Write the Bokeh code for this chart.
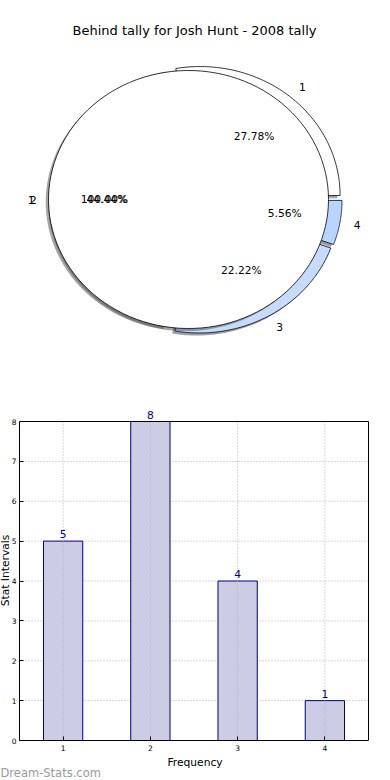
import numpy as np
from bokeh.plotting import figure
from bokeh.models import Range1d, Label, LabelSet, ColumnDataSource, Title
from bokeh.embed import file_html
from bokeh.resources import INLINE
from bokeh.core.properties import value

# ---------------- data ----------------
title_text = "Behind tally for Josh Hunt - 2008 tally"
categories = ["1", "2", "3", "4"]
counts = [5, 8, 4, 1]
cover_labels = ["1"]
cover_counts = [1]
y_ticks = [0, 1, 2, 3, 4, 5, 6, 7, 8]
x_label = "Frequency"
y_label = "Stat Intervals"
watermark = "Dream-Stats.com"

# ---------------- styles ----------------
FONT = "DejaVu Sans"
pie_colors = ["#ffffff", "#ffffff", "#c6dbff", "#b8d5ff"]
cover_color = "#ffffff"
EXPLODE = 0.04
PX_X, PX_Y = 140.0, 129.0        # pixels per pie unit
PIE_W, PIE_H = 390, 400
CX_PX, CY_PX = 196.0, 199.0      # pie centre inside the pie figure
COVER_DX = -8.0 / PX_X           # offset of the overlaid full pie
SHADOW = (-0.02, -0.02)

pie = figure(width=PIE_W, height=PIE_H, output_backend="svg", toolbar_location=None,
             x_range=Range1d(-CX_PX / PX_X, (PIE_W - CX_PX) / PX_X),
             y_range=Range1d(-(PIE_H - CY_PX) / PX_Y, CY_PX / PX_Y),
             x_axis_location=None, y_axis_location=None,
             min_border=0, min_border_left=0, min_border_right=0,
             min_border_top=0, min_border_bottom=0,
             outline_line_color=None)
pie.grid.visible = False


def shade(hexcol):
    h = hexcol.lstrip("#")
    r, g, b = (int(h[i:i + 2], 16) for i in (0, 2, 4))
    return "#%02x%02x%02x" % (int(r * 0.3), int(g * 0.3), int(b * 0.3))


def wedge(cx, cy, t1, t2, n=120):
    a = np.radians(np.linspace(t1, t2, n))
    xs, ys = list(cx + np.cos(a)), list(cy + np.sin(a))
    if t2 - t1 < 359.999:
        xs, ys = [cx] + xs, [cy] + ys
    return xs, ys


texts = []


def draw_pie(vals, labels, colors, explode, ox):
    total = float(sum(vals))
    start = 0.0
    xs, ys, sx, sy = [], [], [], []
    for lab, v in zip(labels, vals):
        span = 360.0 * v / total
        mid = start + span / 2
        c, s = np.cos(np.radians(mid)), np.sin(np.radians(mid))
        cx, cy = ox + explode * c, explode * s
        wx, wy = wedge(cx, cy, start, start + span)
        xs.append(wx); ys.append(wy)
        sx.append([x + SHADOW[0] for x in wx]); sy.append([y + SHADOW[1] for y in wy])
        lx, ly = cx + 1.1 * c, cy + 1.1 * s
        texts.append((lx, ly, lab, "left" if lx > ox else "right"))
        texts.append((cx + 0.6 * c, cy + 0.6 * s, "%.2f%%" % (100.0 * v / total), "center"))
        start += span
    pie.patches(sx, sy, fill_color=[shade(c) for c in colors], fill_alpha=0.5, line_color=None)
    pie.patches(xs, ys, fill_color=colors, line_color="black", line_width=0.8)


draw_pie(counts, categories, pie_colors, EXPLODE, 0.0)
draw_pie(cover_counts, cover_labels, [cover_color], 0.0, COVER_DX)
for tx, ty, tt, ta in texts:
    pie.text(x=[tx], y=[ty], text=[tt], text_align=ta, text_baseline="middle",
             text_font=value(FONT), text_font_size="10.7px", text_color="black")

pie.add_layout(Label(x=-2.0 / PX_X, y=(CY_PX - 30.0) / PX_Y, text=title_text,
                     text_align="center", text_baseline="middle", text_font=FONT,
                     text_font_size="13px", text_color="black"))

# ---------------- bar chart ----------------
BAR_W, BAR_H = 390, 380
ML, MR, MB = 19, 20, 40
TOP_PAD = 21          # px above the top of the axes box (room for value labels)
BOX_H = 319           # px height of the axes box
RIGHT_PAD = 2         # px right of the axes box
xpos = [int(c) for c in categories]
x_lo, x_hi = min(xpos) - 0.5, max(xpos) + 0.5
y_top = max(y_ticks)
box_w = BAR_W - ML - MR - RIGHT_PAD
bars = figure(width=BAR_W, height=BAR_H, output_backend="svg", toolbar_location=None,
              x_range=Range1d(x_lo, x_hi + (x_hi - x_lo) * RIGHT_PAD / box_w),
              y_range=Range1d(0, y_top * (BOX_H + TOP_PAD) / BOX_H),
              min_border_left=ML, min_border_right=MR, min_border_top=0,
              min_border_bottom=MB, outline_line_color=None)
bars.grid.visible = False

# horizontal grid (beneath bars)
hy = [t for t in y_ticks if 0 < t < y_top]
bars.segment(x0=[x_lo] * len(hy), y0=hy, x1=[x_hi] * len(hy), y1=hy,
             line_color="#b0b0b0", line_dash="1 2", line_width=1)

src = ColumnDataSource(dict(x=xpos, top=counts, lab=[str(c) for c in counts]))
bars.vbar(x="x", top="top", width=0.45, source=src, fill_color="#ccccE4",
          line_color="#000080", line_width=1)

# vertical grid (over bars)
bars.segment(x0=xpos, y0=[0] * len(xpos), x1=xpos, y1=[y_top] * len(xpos),
             line_color="#b0b0b0", line_dash="1 2", line_width=1)
# top and right edges of the axes box
bars.segment(x0=[x_lo, x_hi], y0=[y_top, 0], x1=[x_hi, x_hi], y1=[y_top, y_top],
             line_color="black", line_width=1)

bars.add_layout(LabelSet(x="x", y="top", text="lab", source=src, text_align="center",
                         text_baseline="bottom", y_offset=3, text_color="#000080",
                         text_font=value(FONT), text_font_size="10.7px"))

bars.xaxis.ticker = xpos
bars.xaxis.bounds = (x_lo, x_hi)
bars.yaxis.ticker = y_ticks
bars.yaxis.bounds = (0, y_top)
for ax in (bars.xaxis[0], bars.yaxis[0]):
    ax.major_tick_in = 4
    ax.major_tick_out = 0
    ax.minor_tick_in = 0
    ax.minor_tick_out = 0
    ax.axis_line_color = "black"
    ax.major_tick_line_color = "black"
    ax.major_label_text_font = FONT
    ax.major_label_text_font_size = "7.5px"
    ax.major_label_text_color = "black"
    ax.axis_label_text_font = FONT
    ax.axis_label_text_font_size = "10.7px"
    ax.axis_label_text_font_style = "normal"
    ax.axis_label_text_color = "black"
bars.xaxis.major_label_standoff = 4
bars.yaxis.major_label_standoff = 3
bars.xaxis.axis_label = x_label
bars.xaxis.axis_label_standoff = 2

bars.add_layout(Title(text=y_label, align="center", standoff=-7,
                      text_font=FONT, text_font_size="10.7px", text_font_style="normal",
                      text_color="black"), "left")
bars.add_layout(Title(text=watermark, align="left", offset=-ML, standoff=-15,
                      text_font=FONT, text_font_size="11.5px", text_font_style="normal",
                      text_color="#9a9a9a"), "below")

open("out.html", "w").write(file_html([pie, bars], INLINE))
